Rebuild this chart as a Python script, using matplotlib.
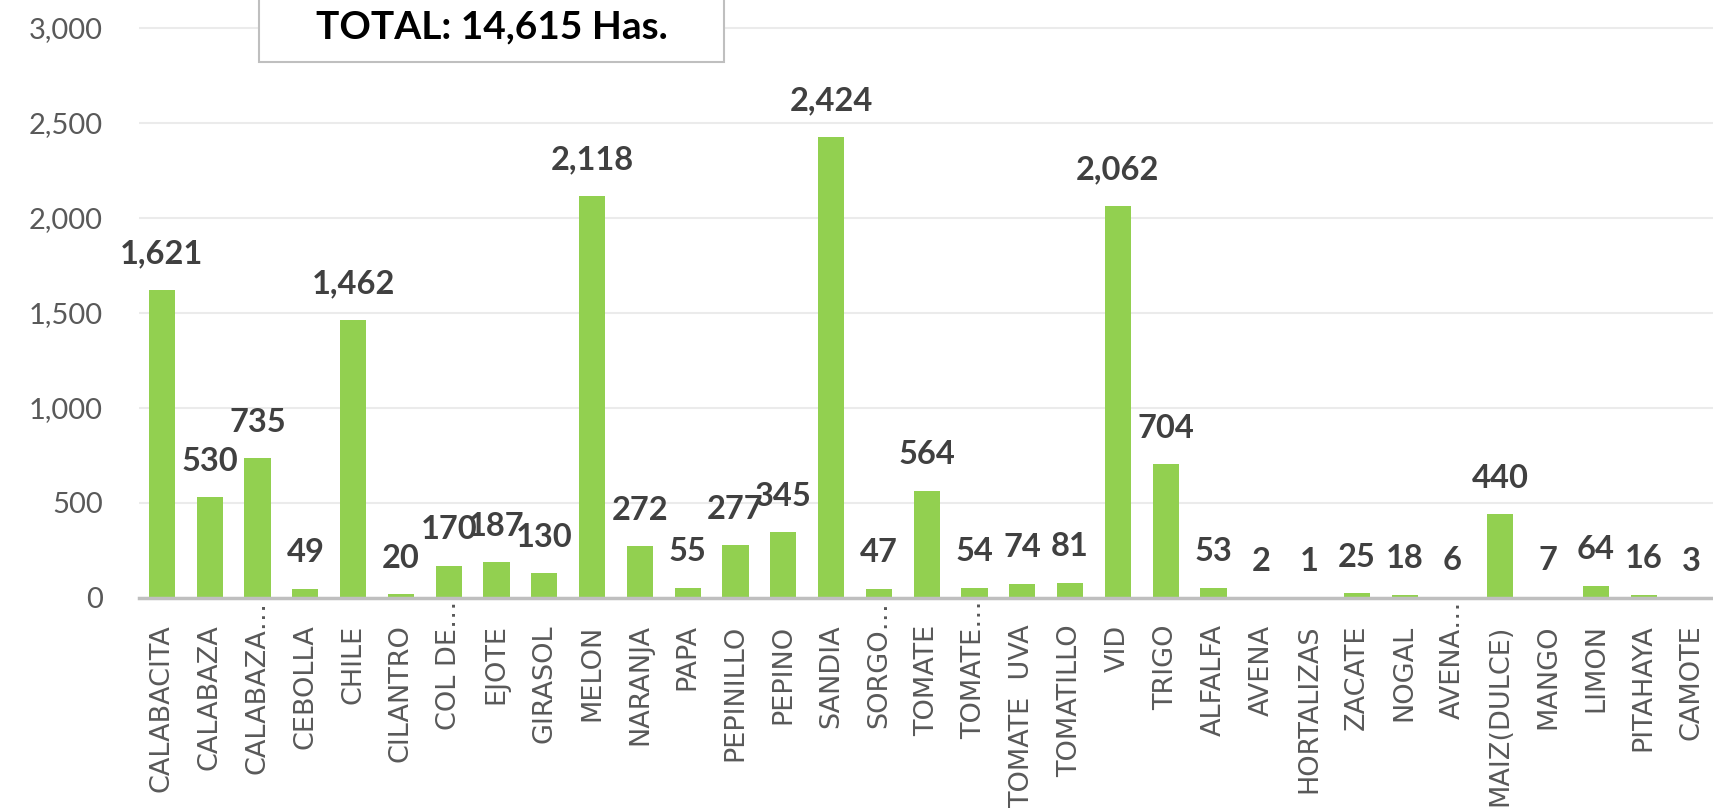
import matplotlib.pyplot as plt
from matplotlib.patches import Rectangle
import numpy as np

# Superficie por cultivo (Has.)
cultivos = ["CALABACITA", "CALABAZA", "CALABAZA…", "CEBOLLA", "CHILE", "CILANTRO",
            "COL DE…", "EJOTE", "GIRASOL", "MELON", "NARANJA", "PAPA", "PEPINILLO",
            "PEPINO", "SANDIA", "SORGO…", "TOMATE", "TOMATE…", "TOMATE  UVA",
            "TOMATILLO", "VID", "TRIGO", "ALFALFA", "AVENA", "HORTALIZAS", "ZACATE",
            "NOGAL", "AVENA…", "MAIZ(DULCE)", "MANGO", "LIMON", "PITAHAYA", "CAMOTE"]
hectareas = [1621, 530, 735, 49, 1462, 20, 170, 187, 130, 2118, 272, 55, 277,
             345, 2424, 47, 564, 54, 74, 81, 2062, 704, 53, 2, 1, 25,
             18, 6, 440, 7, 64, 16, 3]
y_ticks = [0, 500, 1000, 1500, 2000, 2500, 3000]
total_text = "TOTAL: 14,615 Has."

W, H, DPI = 1713, 808, 100
fig = plt.figure(figsize=(W / DPI, H / DPI), dpi=DPI)
ax = fig.add_axes([139 / W, 1 - 598 / H, 1 - 139 / W, 598 / H])

x = np.arange(len(cultivos))
ax.bar(x, hectareas, width=0.55, color="#92D050", zorder=3)

ax.set_xlim(-0.48, len(cultivos) - 0.55)
ax.set_ylim(0, 3147)

# data labels
for xi, v in zip(x, hectareas):
    ax.annotate(f"{v:,}", (xi, v), xytext=(0, 26), textcoords="offset points",
                ha="center", va="center", fontsize=23.5, fontweight="bold",
                color="#404040", family="Lato", zorder=4)

ax.set_yticks(y_ticks)
ax.set_yticklabels([f"{t:,}" for t in y_ticks], family="Lato", fontsize=21,
                   color="#595959")
ax.tick_params(axis="y", length=0, pad=26)
ax.grid(axis="y", color="#ebebeb", linewidth=1.5, zorder=0)

# category labels, drawn as rotated text under each bar
ax.set_xticks(x)
ax.set_xticklabels([])
ax.tick_params(axis="x", length=0)
for xi, name in zip(x, cultivos):
    dy = -19 if not name.endswith("…") else -2
    ax.annotate(name, (xi, 0), xytext=(0, dy), textcoords="offset points",
                rotation=90, ha="center", va="top", fontsize=19.5,
                color="#595959", family="DejaVu Sans", annotation_clip=False)

for s in ["top", "right", "left"]:
    ax.spines[s].set_visible(False)
ax.spines["bottom"].set_color("#bfbfbf")
ax.spines["bottom"].set_linewidth(2.5)
ax.spines["bottom"].set_zorder(5)

# total box
fig.patches.append(Rectangle((259 / W, 1 - 62 / H), (724 - 259) / W, 0.2,
                             transform=fig.transFigure, facecolor="white",
                             edgecolor="#bfbfbf", linewidth=1.5, zorder=10))
fig.text(492 / W, 1 - 27 / H, total_text, ha="center", va="center",
         fontsize=28, fontweight="bold", family="Lato", color="black", zorder=11)

fig.savefig("out.png", dpi=DPI)
